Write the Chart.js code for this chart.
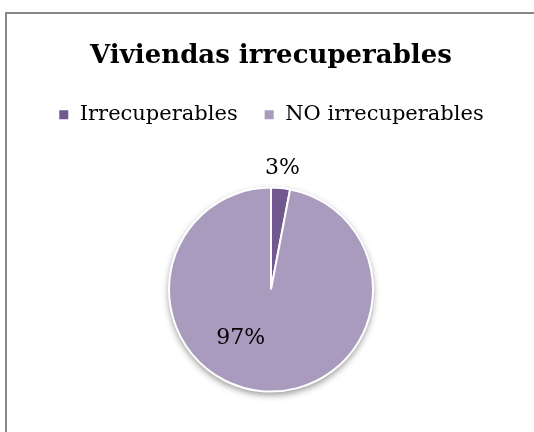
<!DOCTYPE html>
<html>
<head>
<meta charset="utf-8">
<script src="https://cdn.jsdelivr.net/npm/chart.js@4/dist/chart.umd.min.js"></script>
<style>
  html, body { margin: 0; padding: 0; background: #fff; overflow: hidden; }
  #wrap { position: relative; width: 534px; height: 432px; overflow: hidden; }
  #frame { position: absolute; left: 5px; top: 12px; width: 600px; height: 600px;
           border-left: 2px solid #878787; border-top: 2px solid #878787; }
  #box { position: absolute; left: 0; top: 0; width: 534px; height: 444px; }
</style>
</head>
<body>
<div id="wrap">
  <div id="frame"></div>
  <div id="box"><canvas id="pieChart"></canvas></div>
</div>
<script>
// data
const categories = ["Irrecuperables", "NO irrecuperables"];
const values = [3, 97];
const sliceColors = ["#71588F", "#A99BBD"];

// soft shadow under the pie
const pieShadow = {
  id: "pieShadow",
  beforeDatasetsDraw(chart) {
    const arc = chart.getDatasetMeta(0).data[0];
    if (!arc) return;
    const ctx = chart.ctx;
    ctx.save();
    ctx.shadowColor = "rgba(0,0,0,0.45)";
    ctx.shadowBlur = 7;
    ctx.shadowOffsetY = 3;
    ctx.fillStyle = "#fff";
    ctx.beginPath();
    ctx.arc(arc.x, arc.y, arc.outerRadius, 0, Math.PI * 2);
    ctx.fill();
    ctx.restore();
  }
};

// percent labels, 3% outside, 97% inside (best fit like excel)
const pctLabels = {
  id: "pctLabels",
  afterDatasetsDraw(chart) {
    const ctx = chart.ctx;
    const meta = chart.getDatasetMeta(0);
    const total = values.reduce((a, b) => a + b, 0);
    ctx.save();
    ctx.font = "22px 'DejaVu Serif'";
    ctx.fillStyle = "#000";
    ctx.textAlign = "center";
    ctx.textBaseline = "middle";
    meta.data.forEach((arc, i) => {
      const txt = Math.round(values[i] / total * 100) + "%";
      let ang, dist;
      if (i === 0) {
        ang = (arc.startAngle + arc.endAngle) / 2;
        dist = arc.outerRadius + 20;
      } else {
        ang = Math.PI * 0.5 + 0.56; // down-left part of the big slice
        dist = arc.outerRadius * 0.56;
      }
      ctx.fillText(txt, arc.x + Math.cos(ang) * dist, arc.y + Math.sin(ang) * dist);
    });
    ctx.restore();
  }
};

document.addEventListener("DOMContentLoaded", function() {
  new Chart("pieChart", {
    type: "pie",
    data: {
      labels: categories,
      datasets: [{
        data: values,
        backgroundColor: sliceColors,
        borderColor: "#fff",
        borderWidth: 2
      }]
    },
    options: {
      responsive: true,
      maintainAspectRatio: false,
      animation: false,
      radius: 102,
      layout: { padding: { left: 8, bottom: 0 } },
      plugins: {
        title: {
          display: true,
          text: "Viviendas irrecuperables",
          color: "#000",
          font: { family: "'DejaVu Serif'", size: 26, weight: "bold" },
          padding: { top: 41, bottom: 6 }
        },
        legend: {
          position: "top",
          labels: {
            color: "#000",
            font: { family: "'DejaVu Serif'", size: 21 },
            boxWidth: 11,
            boxHeight: 11,
            padding: 26
          }
        },
        tooltip: { enabled: false }
      }
    },
    plugins: [pieShadow, pctLabels]
  });
});
</script>
</body>
</html>
